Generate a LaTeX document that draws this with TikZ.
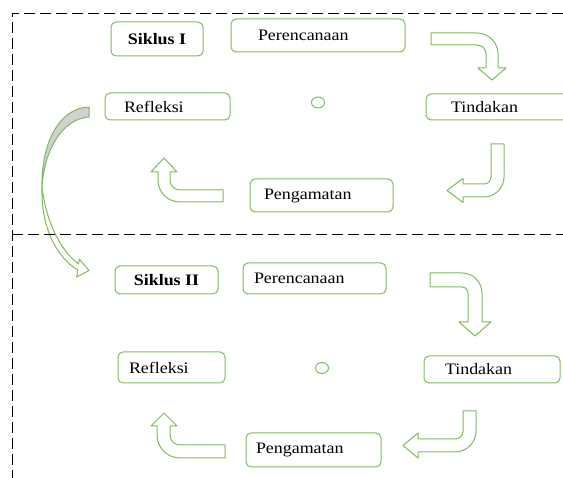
\documentclass[tikz,border=0pt]{standalone}
\usepackage{fontspec}
\setmainfont{Liberation Serif}[FakeStretch=1.12]
\usetikzlibrary{shapes.geometric}
\definecolor{leafgreen}{HTML}{7DBC5C}
\tikzset{every node/.style={font=\fontsize{16}{18}\selectfont}}
\tikzset{box/.style={shape=rectangle, draw=leafgreen, fill=white, line width=1pt,
    rounded corners=5pt, align=left, inner ysep=0pt}}
\tikzset{cycletitle/.style={box, align=center, font=\fontsize{16}{18}\selectfont\bfseries}}
\tikzset{dot/.style={shape=ellipse, draw=leafgreen, line width=1pt,
    minimum width=13pt, minimum height=11pt, inner sep=0pt}}
\tikzset{bentarrow/.style={draw=leafgreen, fill=white, line width=1pt, line join=round}}
\tikzset{frame/.style={draw=black, line width=0.8pt, dash pattern=on 11pt off 5pt}}

\begin{document}
\begin{tikzpicture}[x=1pt, y=-1pt]
    \path[use as bounding box, clip] (0,0) rectangle (563,478);

    % siklus I
    \node(sik1)[cycletitle, minimum width=92pt, minimum height=34pt] at (157,39) {Siklus I};
    \node(per1)[box, text width=120pt, inner xsep=27pt, minimum height=33pt] at (318,35.5) {Perencanaan};
    \node(ref1)[box, text width=87pt, inner xsep=19pt, minimum height=27pt] at (167.5,106.5) {Refleksi};
    \node(tin1)[box, text width=104pt, inner xsep=25pt, minimum height=26pt] at (503,107) {Tindakan};
    \node(pen1)[box, text width=115pt, inner xsep=14pt, minimum height=33pt] at (321.5,195.5) {Pengamatan};
    \node(mid1)[dot] at (318,102.5) {};

    \path[bentarrow] (431,33) -- (477,33) .. controls (488.6,33) and (498,42.4) .. (498,54) -- (498,68)
        -- (506,68) -- (492,80) -- (478,68) -- (486,68) -- (486,54) .. controls (486,49) and (482,45) .. (477,45)
        -- (431,45) -- cycle;
    \path[bentarrow] (491,144) -- (504,144) -- (504,177) .. controls (504,188) and (495,197) .. (484,197)
        -- (463,197) -- (463,202.5) -- (447,190.5) -- (463,178.5) -- (463,184) -- (484,184)
        .. controls (487.9,184) and (491,180.9) .. (491,177) -- cycle;
    \path[bentarrow] (223,190) -- (180,190) .. controls (174.5,190) and (170,185.5) .. (170,180) -- (170,172)
        -- (177,172) -- (164,158) -- (151,172) -- (158,172) -- (158,180) .. controls (158,192.2) and (167.8,202) .. (180,202)
        -- (223,202) -- cycle;

    % siklus II
    \node(sik2)[cycletitle, minimum width=103pt, minimum height=28pt] at (166.5,280) {Siklus II};
    \node(per2)[box, text width=121pt, inner xsep=11pt, minimum height=31pt] at (314.5,278.5) {Perencanaan};
    \node(ref2)[box, text width=85pt, inner xsep=11pt, minimum height=31pt] at (171.5,367.5) {Refleksi};
    \node(tin2)[box, text width=94pt, inner xsep=21pt, minimum height=27pt] at (492,369.5) {Tindakan};
    \node(pen2)[box, text width=115pt, inner xsep=10pt, minimum height=34pt] at (313.5,450) {Pengamatan};
    \node(mid2)[dot] at (322,368) {};

    \path[bentarrow] (430,273) -- (462,273) .. controls (473,273) and (482,282) .. (482,293) -- (482,322)
        -- (491,322) -- (475,336) -- (459,322) -- (468,322) -- (468,293) .. controls (468,289.7) and (465.3,287) .. (462,287)
        -- (430,287) -- cycle;
    \path[bentarrow] (463,411) -- (476,411) -- (476,431) .. controls (476,442.6) and (466.6,452) .. (455,452)
        -- (418,452) -- (418,458) -- (403,445.5) -- (418,433) -- (418,439) -- (455,439)
        .. controls (459.4,439) and (463,435.4) .. (463,431) -- cycle;
    \path[bentarrow] (225,445) -- (180,445) .. controls (174.5,445) and (170,440.5) .. (170,435) -- (170,426)
        -- (177,426) -- (164,413) -- (151,426) -- (157,426) -- (157,435) .. controls (157,447.7) and (167.3,458) .. (180,458)
        -- (225,458) -- cycle;

    % from refleksi down to siklus II
    \path[bentarrow] (42,188) .. controls (41,230) and (58,258) .. (77.7,270) -- (76.7,277) -- (89,270.5)
        -- (79.3,259) -- (78.6,264) .. controls (62,252) and (47,225) .. (42,188) -- cycle;
    \path[bentarrow, fill=black!18] (89,107) .. controls (58,108) and (41,145) .. (42,188)
        .. controls (44,150) and (62,119) .. (89,117) -- cycle;

    \path[frame] (563,13) -- (12,13) -- (12,478);
    \path[frame] (12,234) -- (563,234);
\end{tikzpicture}
\end{document}
